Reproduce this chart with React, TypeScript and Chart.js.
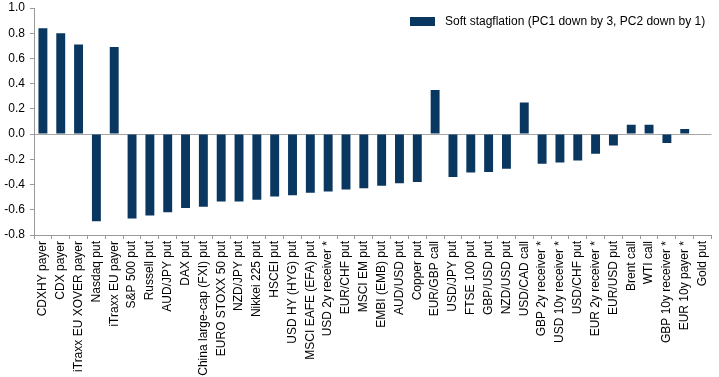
import React, { useEffect, useRef } from "react";
import { Chart, registerables } from "chart.js";

Chart.register(...registerables);

const categories = [
  "CDXHY payer", "CDX payer", "iTraxx EU XOVER payer", "Nasdaq put", "iTraxx EU payer",
  "S&P 500 put", "Russell put", "AUD/JPY put", "DAX put", "China large-cap (FXI) put",
  "EURO STOXX 50 put", "NZD/JPY put", "Nikkei 225 put", "HSCEI put", "USD HY (HYG) put",
  "MSCI EAFE (EFA) put", "USD 2y receiver *", "EUR/CHF put", "MSCI EM put", "EMBI (EMB) put",
  "AUD/USD put", "Copper put", "EUR/GBP call", "USD/JPY put", "FTSE 100 put",
  "GBP/USD put", "NZD/USD put", "USD/CAD call", "GBP 2y receiver *", "USD 10y receiver *",
  "USD/CHF put", "EUR 2y receiver *", "EUR/USD put", "Brent call", "WTI call",
  "GBP 10y receiver *", "EUR 10y payer *", "Gold put",
];

const softStagflation = [
  0.84, 0.80, 0.71, -0.69, 0.69,
  -0.67, -0.645, -0.62, -0.585, -0.575,
  -0.535, -0.535, -0.52, -0.495, -0.485,
  -0.465, -0.455, -0.44, -0.43, -0.41,
  -0.39, -0.38, 0.35, -0.34, -0.305,
  -0.30, -0.275, 0.25, -0.235, -0.225,
  -0.21, -0.155, -0.09, 0.075, 0.075,
  -0.07, 0.04, -0.004,
];

const seriesLabel = "Soft stagflation (PC1 down by 3, PC2 down by 1)";
const yMin = -0.8;
const yMax = 1.0;
const yStep = 0.2;

const BAR_COLOR = "#0a3760";
const AXIS_COLOR = "#999999";
const FONT = "'Liberation Sans', Arial, sans-serif";

export default function App() {
  const canvasRef = useRef<HTMLCanvasElement | null>(null);

  useEffect(() => {
    if (!canvasRef.current) return;
    const chart = new Chart(canvasRef.current, {
      type: "bar",
      data: {
        labels: categories,
        datasets: [
          {
            label: seriesLabel,
            data: softStagflation,
            backgroundColor: BAR_COLOR,
            borderWidth: 0,
            barPercentage: 0.5,
            categoryPercentage: 1.0,
          },
        ],
      },
      options: {
        responsive: false,
        animation: false,
        maintainAspectRatio: false,
        layout: { padding: { top: 0, right: 4, left: 0, bottom: 0 } },
        plugins: {
          legend: { display: false },
          tooltip: { enabled: false },
        },
        scales: {
          x: {
            grid: {
              offset: true,
              drawOnChartArea: false,
              drawTicks: true,
              tickLength: 4,
              tickColor: AXIS_COLOR,
            },
            border: { display: true, color: AXIS_COLOR, width: 1 },
            ticks: {
              autoSkip: false,
              maxRotation: 90,
              minRotation: 90,
              color: "#000000",
              padding: 2,
              font: { family: FONT, size: 12 },
            },
            afterFit: (scale: any) => {
              scale.height = 142;
            },
          },
          y: {
            min: yMin,
            max: yMax,
            grid: {
              drawOnChartArea: true,
              color: (ctx: any) =>
                ctx.tick && Math.abs(ctx.tick.value) < 1e-9 ? "#a6a6a6" : "rgba(0,0,0,0)",
              tickColor: AXIS_COLOR,
              tickLength: 4,
              lineWidth: 1,
            },
            border: { display: true, color: AXIS_COLOR, width: 1 },
            ticks: {
              stepSize: yStep,
              color: "#000000",
              padding: 5,
              font: { family: FONT, size: 12 },
              callback: (v: any) => Number(v).toFixed(1),
            },
            afterFit: (scale: any) => {
              scale.width = 34;
              scale.paddingTop = 8;
            },
          },
        },
      },
    });
    return () => chart.destroy();
  }, []);

  return (
    <div
      style={{
        position: "fixed",
        left: 0,
        top: 0,
        width: 719,
        height: 377,
        background: "#ffffff",
      }}
    >
      <canvas ref={canvasRef} width={719} height={377} style={{ display: "block" }} />
      <div
        style={{
          position: "absolute",
          left: 410,
          top: 14,
          display: "flex",
          alignItems: "center",
          fontFamily: FONT,
          fontSize: 12,
          color: "#000000",
          whiteSpace: "nowrap",
        }}
      >
        <span
          style={{
            display: "inline-block",
            width: 25,
            height: 9,
            background: BAR_COLOR,
            marginRight: 10,
          }}
        />
        <span>{seriesLabel}</span>
      </div>
    </div>
  );
}
